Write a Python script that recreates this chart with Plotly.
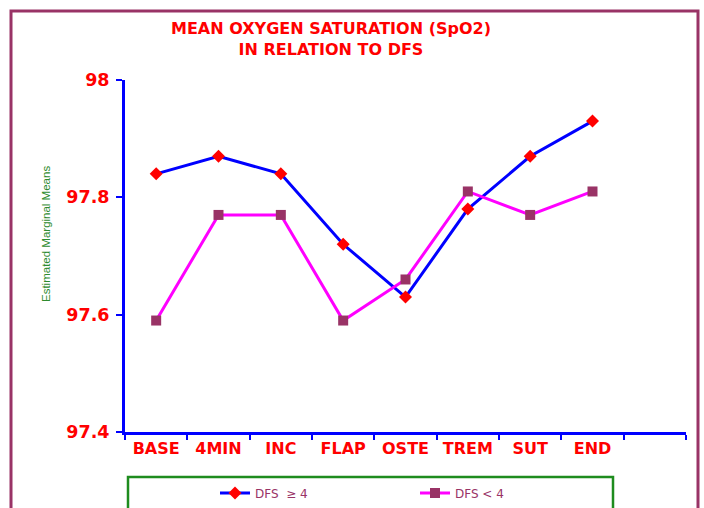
import plotly.graph_objects as go

categories = ["BASE", "4MIN", "INC", "FLAP", "OSTE", "TREM", "SUT", "END"]
extra_slot = [" "]
dfs_ge4 = [97.84, 97.87, 97.84, 97.72, 97.63, 97.78, 97.87, 97.93]
dfs_lt4 = [97.59, 97.77, 97.77, 97.59, 97.66, 97.81, 97.77, 97.81]
y_ticks = [97.4, 97.6, 97.8, 98.0]
y_tick_text = ["97.4", "97.6", "97.8", "98"]
title_lines = ["MEAN OXYGEN SATURATION (SpO2)", "IN RELATION TO DFS"]

W, H = 704, 508
L, R, T, B = 125, 18, 80, 76
pw, ph = W - L - R, H - T - B

def px(x):
    return (x - L) / pw

def py(y):
    return (H - B - y) / ph

fig = go.Figure()
fig.add_trace(go.Scatter(
    x=categories, y=dfs_ge4, mode="lines+markers", name="DFS  \u2265 4",
    line=dict(color="#0000FF", width=3),
    marker=dict(symbol="diamond", size=10, color="#FF0000"),
))
fig.add_trace(go.Scatter(
    x=categories, y=dfs_lt4, mode="lines+markers", name="DFS < 4",
    line=dict(color="#FF00FF", width=3),
    marker=dict(symbol="square", size=10, color="#993366"),
))

title_font = dict(size=16, color="#FF0000", family="DejaVu Sans", weight="bold")
annotations = [
    dict(text="<br>".join(title_lines), xref="paper", yref="paper",
         x=px(331), y=py(39), xanchor="center", yanchor="middle",
         align="center", showarrow=False, font=title_font),
    dict(text="Estimated Marginal Means",
         xref="paper", yref="paper",
         x=px(46), y=py(234), xanchor="center", yanchor="middle",
         textangle=-90, showarrow=False,
         font=dict(size=11.5, color="#2E8B2E", family="Liberation Sans Narrow, Liberation Sans, Arial")),
]

fig.update_layout(
    width=W, height=H,
    margin=dict(l=L, r=R, t=T, b=B, autoexpand=False),
    paper_bgcolor="white", plot_bgcolor="white",
    font=dict(family="DejaVu Sans, Arial, sans-serif"),
    xaxis=dict(
        type="category",
        categoryorder="array",
        categoryarray=categories + extra_slot,
        range=[-0.5, 8.5],
        tickson="boundaries",
        ticks="outside", ticklen=5, tickwidth=2, tickcolor="#0000FF",
        showline=True, linecolor="#0000FF", linewidth=3,
        showgrid=False, zeroline=False,
        tickfont=dict(size=16, color="#FF0000", family="DejaVu Sans", weight="bold"),
    ),
    yaxis=dict(
        range=[97.4, 98.0],
        tickvals=y_ticks, ticktext=y_tick_text,
        ticks="outside", ticklen=6, tickwidth=2, tickcolor="#0000FF",
        showline=True, linecolor="#0000FF", linewidth=3,
        showgrid=False, zeroline=False,
        ticklabelstandoff=3,
        tickfont=dict(size=17.5, color="#FF0000", family="DejaVu Sans", weight="bold"),
    ),
    legend=dict(
        orientation="h",
        x=px(215), xanchor="left",
        y=py(493), yanchor="middle",
        font=dict(size=12, color="#993366", family="DejaVu Sans"),
        entrywidth=155, entrywidthmode="pixels",
        bgcolor="rgba(0,0,0,0)",
    ),
    showlegend=True,
    annotations=annotations,
    shapes=[
        dict(type="rect", xref="paper", yref="paper",
             x0=px(11), x1=px(698), y0=py(11), y1=py(540),
             line=dict(color="#993366", width=3), fillcolor="rgba(0,0,0,0)"),
        dict(type="rect", xref="paper", yref="paper",
             x0=px(128), x1=px(613), y0=py(477), y1=py(540),
             line=dict(color="#1E8C1E", width=2.5), fillcolor="rgba(0,0,0,0)"),
    ],
)

fig.write_html("out.html")
